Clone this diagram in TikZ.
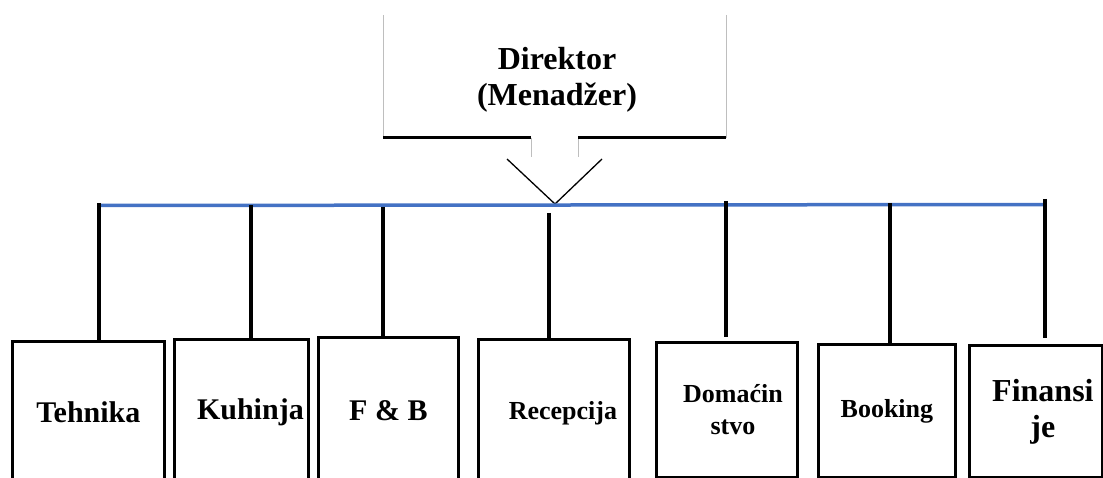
\documentclass[tikz,border=0pt]{standalone}
\usepackage{fontspec}
\setmainfont{Liberation Serif}
\usetikzlibrary{positioning,calc}
\definecolor{busblue}{RGB}{68,114,196}
\definecolor{edgegray}{RGB}{190,190,190}

\begin{document}
\begin{tikzpicture}[
        x=1pt, y=-1pt,
        every node/.style={font=\bfseries},
        box/.style={draw, line width=2.8pt, anchor=north west, align=center, inner sep=0pt},
        link/.style={line width=3.5pt},
        big/.style={font=\bfseries\fontsize{30}{34}\selectfont},
        small/.style={font=\bfseries\fontsize{26}{32}\selectfont},
    ]
        \useasboundingbox (0,0) rectangle (1103,478);
        \clip (0,0) rectangle (1103,478);

        % Director callout
        \node[font=\bfseries\fontsize{32}{36}\selectfont, align=center] (dir) at (557,80) {Direktor\\(Menadžer)};
        \draw[edgegray, line width=1pt] (383,15) -- (383,138);
        \draw[edgegray, line width=1pt] (726,15) -- (726,138);
        \draw[edgegray, line width=1pt] (531,138) -- (531,157);
        \draw[edgegray, line width=1pt] (578,138) -- (578,157);
        \draw[line width=3pt] (383,138) -- (531,138);
        \draw[line width=3pt] (578,138) -- (726,138);
        \coordinate (tip) at (555,204);
        \draw[line width=1.3pt] (507,159) -- (tip) -- (602,159);

        % Departments
        \node[box, big, minimum width=152pt, minimum height=142pt] (teh) at (11,340) {Tehnika};
        \node[box, big, minimum width=134pt, minimum height=146pt] (kuh) at (173,338) {\hspace*{18pt}Kuhinja};
        \node[box, big, minimum width=140pt, minimum height=146pt] (fb) at (317,336) {F \& B};
        \node[box, small, minimum width=151pt, minimum height=148pt] (rec) at (477,338) {\hspace*{18pt}Recepcija};
        \node[box, small, minimum width=141pt, minimum height=135pt] (dom) at (655,341) {\hspace*{12pt}Domaćin\\\hspace*{12pt}stvo};
        \node[box, small, minimum width=137pt, minimum height=133pt] (boo) at (817,343) {Booking};
        \node[box, font=\bfseries\fontsize{32}{36}\selectfont, minimum width=133pt, minimum height=132pt] (fin) at (968,344) {\hspace*{14pt}Finansi\\\hspace*{14pt}je};

        % Bus
        \coordinate (busL) at (99,205.5);
        \coordinate (busR) at (1045,204.5);
        \draw[busblue, line width=3.5pt] (busL) -- (busR);

        \coordinate (t1) at (99,203);
        \coordinate (t2) at (251,205);
        \coordinate (t3) at (383,207);
        \coordinate (t4) at (549,213);
        \coordinate (t5) at (726,201);
        \coordinate (t6) at (890,203);
        \coordinate (t7) at (1045,199);

        \draw[link] (t1) -- (t1 |- teh.north);
        \draw[link] (t2) -- (t2 |- kuh.north);
        \draw[link] (t3) -- (t3 |- fb.north);
        \draw[link] (t4) -- (t4 |- rec.north);
        \draw[link] (t5) -- ($(t5 |- dom.north)+(0,-4)$);
        \draw[link] (t6) -- (t6 |- boo.north);
        \draw[link] (t7) -- ($(t7 |- fin.north)+(0,-6)$);
    \end{tikzpicture}
\end{document}
